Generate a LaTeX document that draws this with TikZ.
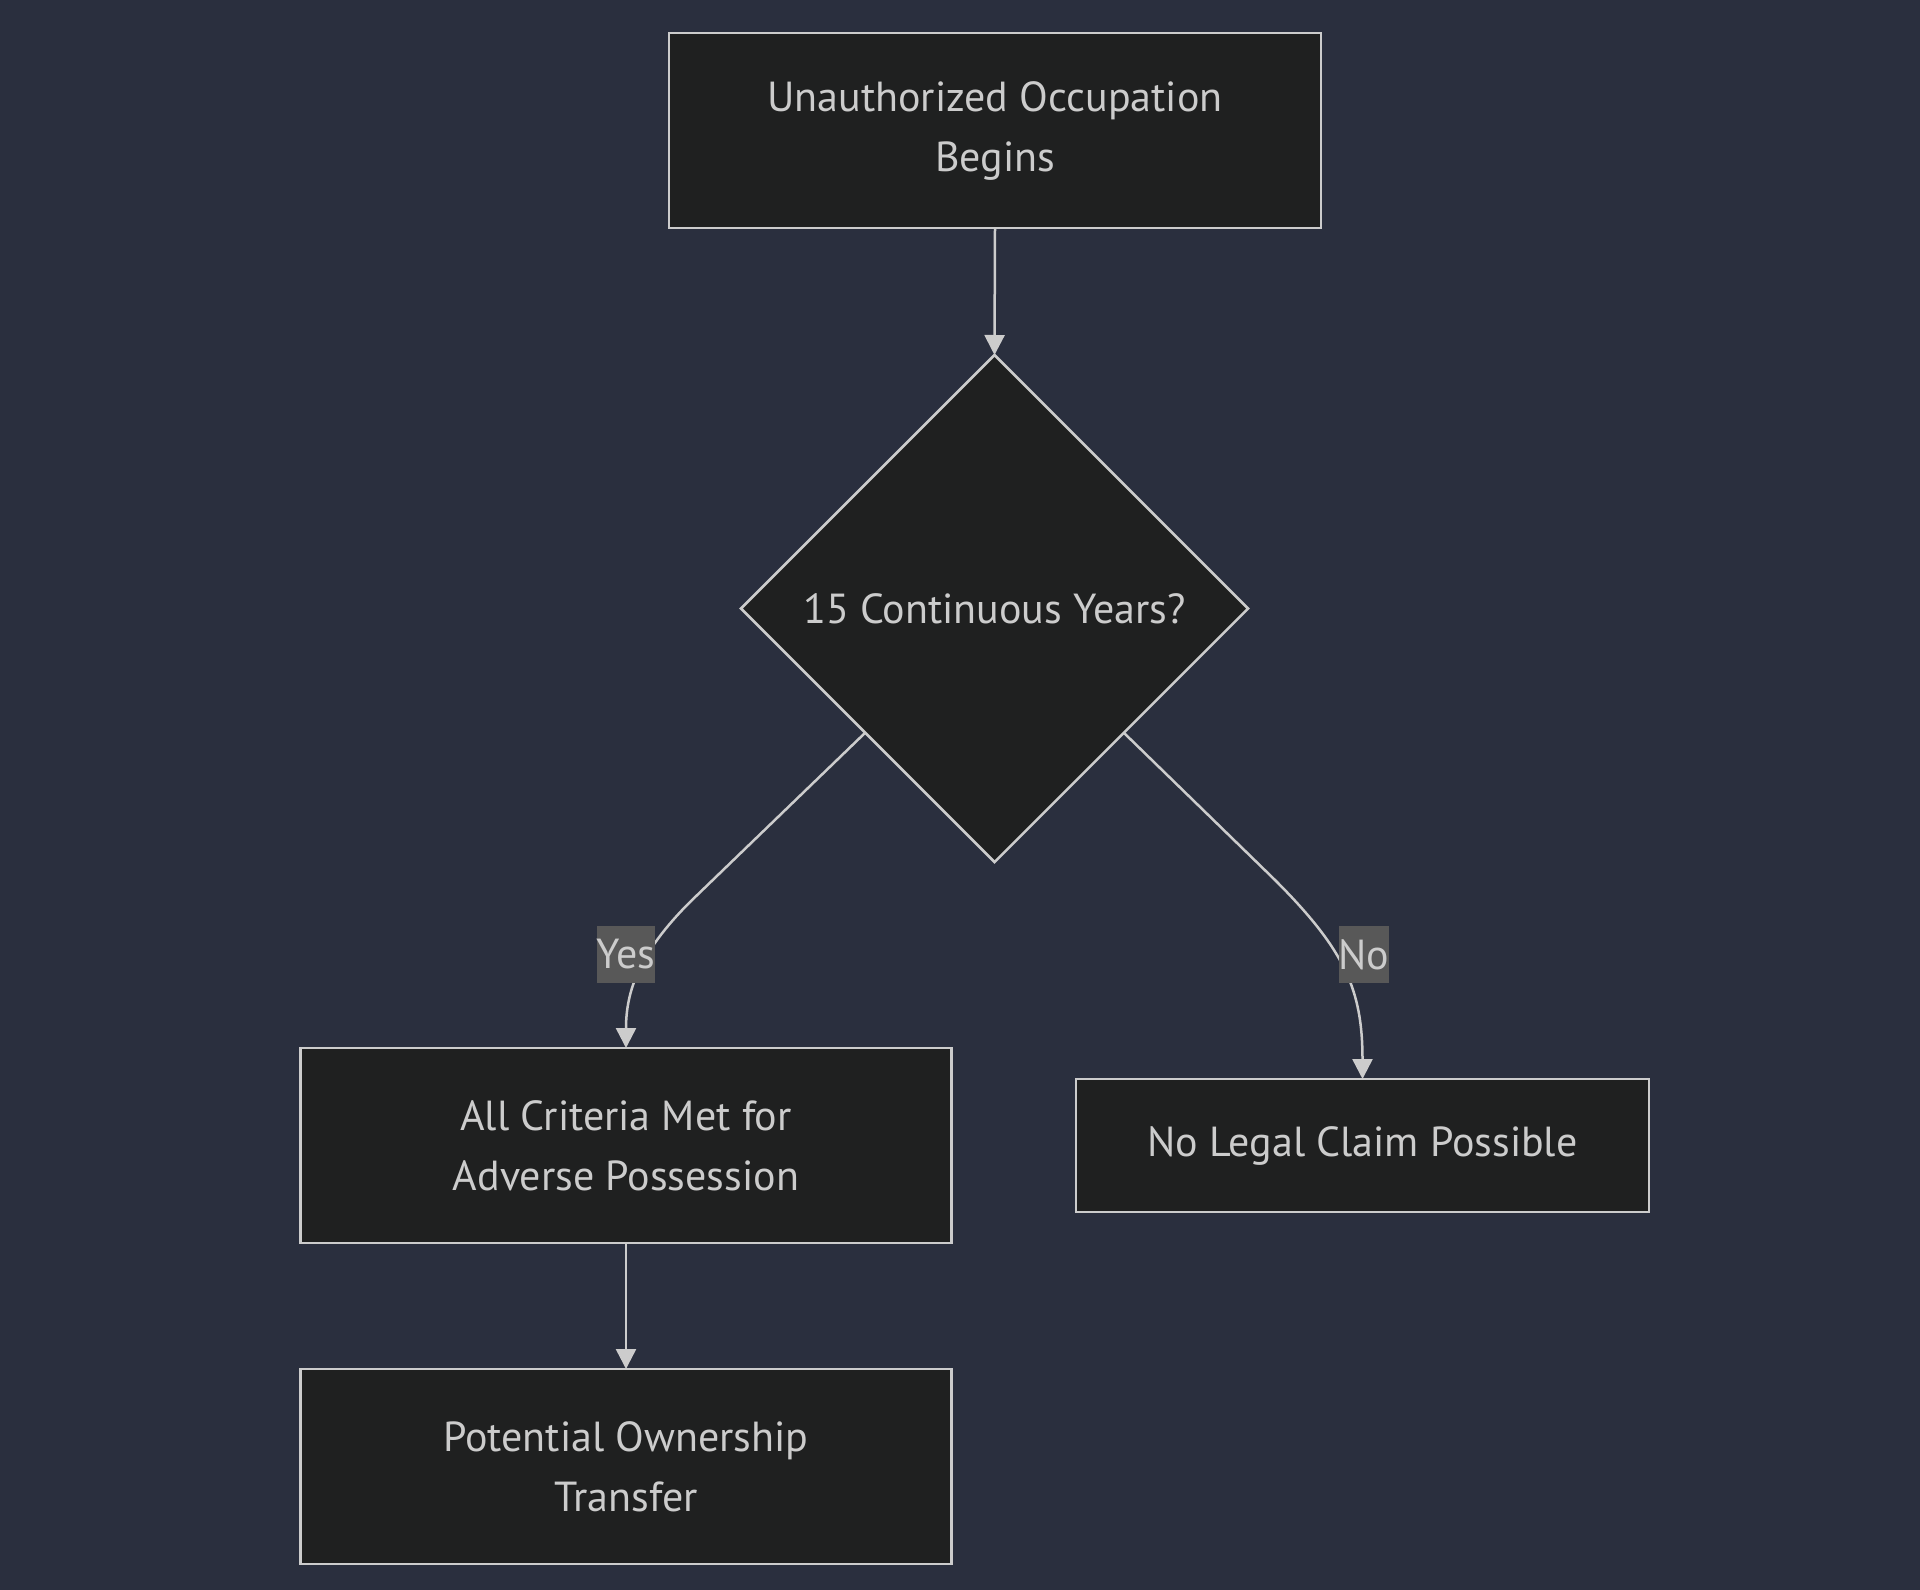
\documentclass[tikz,border=0pt]{standalone}
\usepackage{fontspec}
\setmainfont{PT Sans}
\usetikzlibrary{shapes.geometric,arrows.meta,calc}
\definecolor{bgc}{HTML}{2A2F3E}
\definecolor{nodefill}{HTML}{1F2020}
\definecolor{strokec}{HTML}{CCCCCC}
\definecolor{labelfill}{HTML}{585858}
\tikzset{
  box/.style={draw=strokec, fill=nodefill, line width=2.5pt, inner sep=0pt, outer sep=0pt,
    text=strokec, font=\fontsize{42}{60}\selectfont, align=center},
  decision/.style={diamond, shape aspect=1, draw=strokec, fill=nodefill, line width=2.5pt,
    inner sep=0pt, outer sep=0pt, text=strokec, font=\fontsize{42}{60}\selectfont,
    minimum width=507pt, minimum height=507pt},
  edgelabel/.style={fill=labelfill, text=strokec, font=\fontsize{42}{48}\selectfont,
    inner sep=0pt, minimum width=57pt, minimum height=57pt},
  conn/.style={draw=strokec, line width=2.5pt, -{Triangle[length=20pt,width=20pt]}}
}
\begin{document}
\begin{tikzpicture}[x=1pt,y=-1pt]
\fill[bgc] (0,0) rectangle (1920,1590);
\useasboundingbox (0,0) rectangle (1920,1590);
\node[box, minimum width=652pt, minimum height=195pt] (a) at (995,130.5) {Unauthorized Occupation\\Begins};
\node[decision] (d) at (994.5,608.5) {15 Continuous Years?};
\node[box, minimum width=651pt, minimum height=195pt] (y) at (626,1145.5) {All Criteria Met for\\Adverse Possession};
\node[box, minimum width=573pt, minimum height=133pt] (n) at (1362.5,1145.5) {No Legal Claim Possible};
\node[box, minimum width=651pt, minimum height=195pt] (p) at (626,1466.5) {Potential Ownership\\Transfer};
\coordinate (dl) at ($(d.west)!0.49!(d.south)$);
\coordinate (dr) at ($(d.east)!0.49!(d.south)$);
\draw[conn] (a.south) -- (d.north);
\draw[conn] (dl) -- (690,902) .. controls (640,952) and (626,990) .. (y.north);
\draw[conn] (dr) -- (1275,880) .. controls (1345,950) and (1362.5,990) .. (n.north);
\draw[conn] (y.south) -- (p.north);
\node[edgelabel, minimum width=57pt] (ly) at (626,954.5) {Yes};
\node[edgelabel, minimum width=47pt] (ln) at (1364,954.5) {No};
\end{tikzpicture}
\end{document}
